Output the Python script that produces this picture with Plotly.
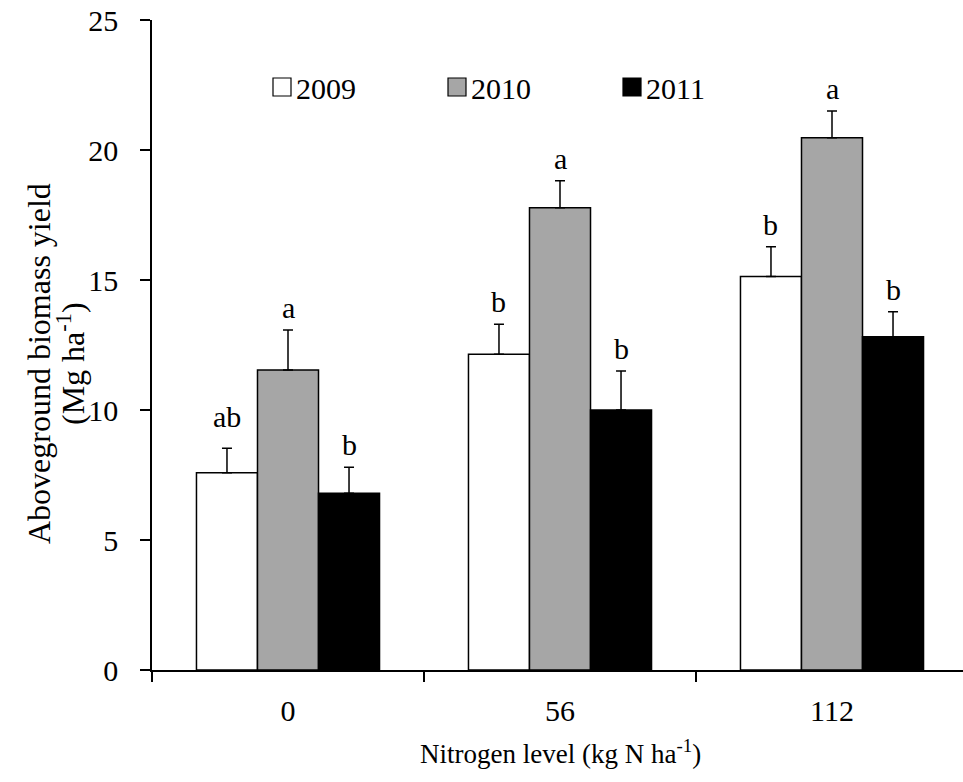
import plotly.graph_objects as go

# Aboveground biomass yield (Mg/ha) by nitrogen rate and year, with standard errors
nitrogen_levels = ["0", "56", "112"]
years = ["2009", "2010", "2011"]

yield_2009 = [7.59, 12.14, 15.13]
yield_2010 = [11.54, 17.78, 20.47]
yield_2011 = [6.80, 10.00, 12.82]

se_2009 = [0.94, 1.16, 1.15]
se_2010 = [1.54, 1.04, 1.03]
se_2011 = [1.00, 1.50, 0.96]

letters_2009 = ["ab", "b", "b"]
letters_2010 = ["a", "a", "a"]
letters_2011 = ["b", "b", "b"]

yields = [yield_2009, yield_2010, yield_2011]
errors = [se_2009, se_2010, se_2011]
letters = [letters_2009, letters_2010, letters_2011]
fills = ["#ffffff", "#a6a6a6", "#000000"]

FONT = "Liberation Serif, Times New Roman, serif"
W, H = 963, 782
ML, MR, MT, MB = 152, 0, 20, 112
PLOT_W = W - ML - MR
PLOT_H = H - MT - MB
CAT_PX = 272  # pixel width of one nitrogen-level category
BARGAP = 0.327

fig = go.Figure()
for yr, vals, err, col in zip(years, yields, errors, fills):
    fig.add_trace(go.Bar(
        name=yr,
        x=nitrogen_levels,
        y=vals,
        marker=dict(color=col, line=dict(color="black", width=1.5)),
        error_y=dict(type="data", array=err, arrayminus=[0] * len(err),
                     symmetric=False, color="black", thickness=1.5, width=5),
        showlegend=False,
    ))

# significance letters above each error bar (two-letter groups sit a bit higher)
bar_w = (1 - BARGAP) / len(years)
for j, (vals, err, labs) in enumerate(zip(yields, errors, letters)):
    for i, (v, e, lab) in enumerate(zip(vals, err, labs)):
        fig.add_annotation(
            x=i + (j - (len(years) - 1) / 2) * bar_w, y=v + e,
            xref="x", yref="y", text=lab, showarrow=False,
            yanchor="bottom", yshift=4 + (9 if len(lab) > 1 else 0),
            font=dict(family=FONT, size=30, color="black"),
        )


def px_x(p):
    return (p - ML) / PLOT_W


def px_y(p):
    return (H - MB - p) / PLOT_H


# legend: square swatches with year labels
legend_left = [273, 448, 623]
for yr, col, lx in zip(years, fills, legend_left):
    fig.add_shape(type="rect", xref="paper", yref="paper",
                  x0=px_x(lx), x1=px_x(lx + 18), y0=px_y(96), y1=px_y(78),
                  fillcolor=col, line=dict(color="black", width=1.2))
    fig.add_annotation(x=px_x(lx + 21), y=px_y(88), xref="paper", yref="paper",
                       text=yr, showarrow=False, xanchor="left", yanchor="middle",
                       font=dict(family=FONT, size=30, color="black"))

# y-axis title, two rotated lines
for line, cx in [("Aboveground biomass yield", 39),
                 ("(Mg ha<sup>-1</sup>)", 71)]:
    fig.add_annotation(x=px_x(cx), y=px_y(364), xref="paper", yref="paper",
                       text=line, textangle=-90, showarrow=False,
                       xanchor="center", yanchor="middle",
                       font=dict(family=FONT, size=32, color="black"))

# x-axis title
fig.add_annotation(x=px_x(560), y=px_y(752), xref="paper", yref="paper",
                   text="Nitrogen level (kg N ha<sup>-1</sup>)",
                   showarrow=False, xanchor="center", yanchor="middle",
                   font=dict(family=FONT, size=27, color="black"))

fig.update_layout(
    width=W, height=H,
    margin=dict(l=ML, r=MR, t=MT, b=MB),
    paper_bgcolor="white", plot_bgcolor="white",
    barmode="group", bargap=BARGAP, bargroupgap=0,
    font=dict(family=FONT, size=30, color="black"),
)
fig.update_xaxes(
    type="category", range=[-0.5, -0.5 + PLOT_W / CAT_PX],
    tickson="boundaries", ticks="outside", ticklen=10, tickwidth=1.5,
    tickcolor="black", showline=True, linecolor="black", linewidth=1.5,
    showgrid=False, zeroline=False, ticklabelstandoff=13,
    tickfont=dict(family=FONT, size=30, color="black"),
)
fig.update_yaxes(
    range=[0, 25], dtick=5, ticks="outside", ticklen=10, tickwidth=1.5,
    tickcolor="black", showline=True, linecolor="black", linewidth=1.5,
    showgrid=False, zeroline=False, ticklabelstandoff=16,
    tickfont=dict(family=FONT, size=30, color="black"),
)

fig.write_html("out.html")
